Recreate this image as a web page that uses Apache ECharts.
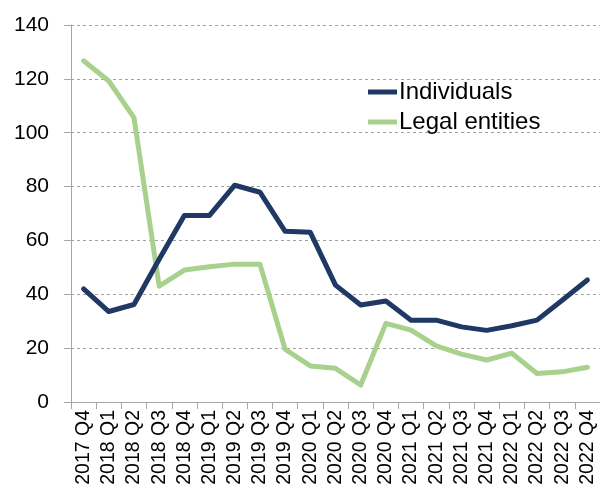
<!DOCTYPE html>
<html>
<head>
<meta charset="utf-8">
<script src="https://cdn.jsdelivr.net/npm/echarts@6/dist/echarts.min.js"></script>
<style>
  html, body { margin: 0; padding: 0; background: #fff; }
  #chart { width: 600px; height: 490px; }
</style>
</head>
<body>
<div id="chart"></div>
<script>
// Quarterly series
const quarters = [
  '2017 Q4', '2018 Q1', '2018 Q2', '2018 Q3', '2018 Q4', '2019 Q1', '2019 Q2',
  '2019 Q3', '2019 Q4', '2020 Q1', '2020 Q2', '2020 Q3', '2020 Q4', '2021 Q1',
  '2021 Q2', '2021 Q3', '2021 Q4', '2022 Q1', '2022 Q2', '2022 Q3', '2022 Q4'
];
const individuals = [
  42.0, 33.6, 36.2, 53.0, 69.3, 69.3, 80.5, 77.9, 63.4, 63.0, 43.4,
  36.0, 37.5, 30.4, 30.4, 27.9, 26.6, 28.3, 30.4, 37.8, 45.3
];
const legalEntities = [
  126.7, 119.2, 105.6, 43.0, 49.0, 50.2, 51.2, 51.2, 19.6, 13.4, 12.5,
  6.3, 29.2, 26.7, 20.8, 17.8, 15.6, 18.1, 10.6, 11.2, 12.9
];
const yTicks = { min: 0, max: 140, interval: 20 };

const FONT = 'Liberation Sans';
const chart = echarts.init(document.getElementById('chart'), null, { renderer: 'canvas' });

chart.setOption({
  animation: false,
  backgroundColor: '#ffffff',
  grid: { left: 71, top: 25, right: -5, bottom: 88, containLabel: false },
  legend: {
    orient: 'vertical',
    left: 363,
    top: 75,
    itemWidth: 29,
    itemHeight: 5,
    itemGap: 6,
    icon: 'rect',
    textStyle: { fontFamily: FONT, fontSize: 24, color: '#000', padding: [0, 0, 0, -3] },
    data: ['Individuals', 'Legal entities']
  },
  xAxis: {
    type: 'category',
    data: quarters,
    boundaryGap: true,
    axisLine: { lineStyle: { color: '#a6a6a6', width: 1 } },
    axisTick: { show: true, length: 7, alignWithLabel: false, lineStyle: { color: '#a6a6a6' } },
    axisLabel: {
      interval: 0,
      rotate: 90,
      margin: 8,
      fontFamily: FONT,
      fontSize: 19.5,
      color: '#000'
    },
    splitLine: { show: false }
  },
  yAxis: {
    type: 'value',
    min: yTicks.min,
    max: yTicks.max,
    interval: yTicks.interval,
    axisLine: { show: true, lineStyle: { color: '#a6a6a6', width: 1 } },
    axisTick: { show: true, length: 7, lineStyle: { color: '#a6a6a6' } },
    axisLabel: { fontFamily: FONT, fontSize: 21, color: '#000', margin: 22 },
    splitLine: { show: true, lineStyle: { color: '#a0a0a0', type: [3, 3], width: 1 } }
  },
  series: [
    {
      name: 'Individuals',
      type: 'line',
      data: individuals,
      symbol: 'none',
      lineStyle: { color: '#203864', width: 5, join: 'round', cap: 'round' },
      itemStyle: { color: '#203864' },
      z: 2
    },
    {
      name: 'Legal entities',
      type: 'line',
      data: legalEntities,
      symbol: 'none',
      lineStyle: { color: '#a9d18e', width: 5, join: 'round', cap: 'round' },
      itemStyle: { color: '#a9d18e' },
      z: 1
    }
  ]
});
</script>
</body>
</html>
